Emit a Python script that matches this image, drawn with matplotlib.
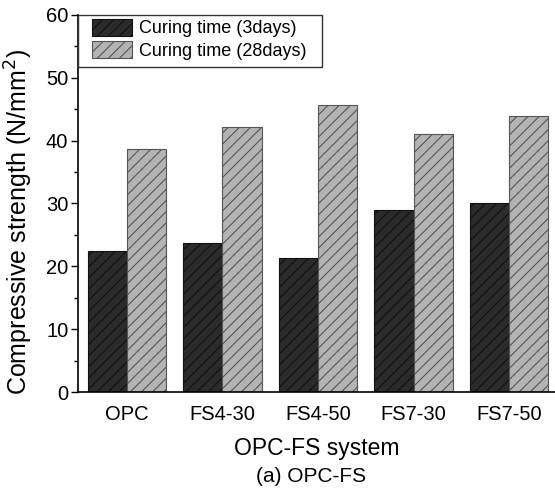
import numpy as np
import matplotlib
matplotlib.use("Agg")
import matplotlib.pyplot as plt
from matplotlib.patches import Rectangle

plt.rcParams['font.family'] = ['Liberation Sans', 'DejaVu Sans']
plt.rcParams['hatch.linewidth'] = 0.8

# data
systems = ['OPC', 'FS4-30', 'FS4-50', 'FS7-30', 'FS7-50']
day3 = [22.4, 23.7, 21.4, 29.0, 30.1]
day28 = [38.6, 42.2, 45.7, 41.1, 43.9]

fig = plt.figure(figsize=(5.55, 4.95), dpi=100)
ax = fig.add_axes([0.1405, 0.208, 0.8595, 0.762])

x = np.arange(len(systems))
w = 0.41
ax.bar(x - w/2, day3, w, color='#2b2b2b', edgecolor='#111111', hatch='///',
       linewidth=0.8, label='Curing time (3days)')
ax.bar(x + w/2, day28, w, color='#b3b3b3', edgecolor='#555555', hatch='///',
       linewidth=0.8, label='Curing time (28days)')

ax.set_xlim(-0.51, 4.48)
ax.set_ylim(0, 60)
ax.set_yticks(range(0, 61, 10))
ax.set_yticks(range(5, 60, 10), minor=True)
ax.set_xticks(x)
ax.set_xticklabels(systems)
ax.tick_params(axis='y', which='major', length=5, width=1, labelsize=14.5, pad=2)
ax.tick_params(axis='y', which='minor', length=3, width=1)
ax.tick_params(axis='x', length=0, labelsize=14.5, pad=9)

for s in ['top', 'right']:
    ax.spines[s].set_visible(False)
for s in ['left', 'bottom']:
    ax.spines[s].set_linewidth(1.2)

ax.set_ylabel('Compressive strength (N/mm$^2$)', fontsize=18)
ax.yaxis.set_label_coords(-0.090, 0.451)
ax.set_xlabel('OPC-FS system', fontsize=16.5, labelpad=10)
fig.text(0.56, 0.038, '(a) OPC-FS', ha='center', va='center', fontsize=15)

# legend box drawn separately to get the wider side padding
ax.add_patch(Rectangle((0, 0.862), 0.512, 0.138, transform=ax.transAxes,
                       fill=False, edgecolor='#333333', linewidth=1.0,
                       clip_on=False, zorder=4))
leg = ax.legend(loc='upper left', bbox_to_anchor=(0.029, 0.99), fontsize=13,
                frameon=False, handlelength=2.2, handleheight=1.1,
                borderpad=0, labelspacing=0.2, handletextpad=0.4,
                borderaxespad=0)

fig.savefig('out.png', dpi=100)
